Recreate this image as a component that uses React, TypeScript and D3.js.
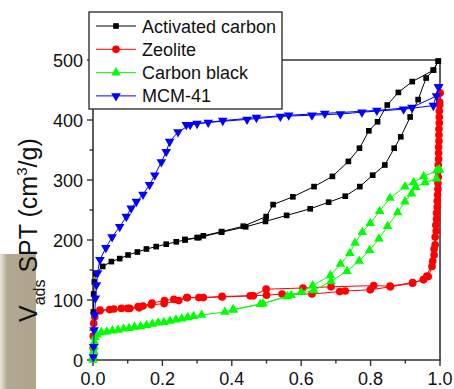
import React from 'react';
import * as d3 from 'd3';

const W = 454;
const H = 389;

const xTicks = [0, 0.2, 0.4, 0.6, 0.8, 1.0];
const xTickLabels = ['0.0', '0.2', '0.4', '0.6', '0.8', '1.0'];
const xMinorTicks = [0.1, 0.3, 0.5, 0.7, 0.9];
const yTicks = [0, 100, 200, 300, 400, 500];
const yMinorTicks = [50, 150, 250, 350, 450];

const seriesNames = ['Activated carbon', 'Zeolite', 'Carbon black', 'MCM-41'];
const seriesColors = ['#000000', '#ff0000', '#00ff00', '#0000ff'];
const seriesMarkers = ['square', 'circle', 'triangle', 'triangleDown'];

// [P/P0, V_ads]
const activatedCarbonAds: [number, number][] = [
  [0.0005, 40], [0.001, 80], [0.002, 110], [0.004, 130], [0.008, 144], [0.028, 156],
  [0.053, 164], [0.077, 169], [0.101, 175], [0.128, 180], [0.154, 185], [0.182, 189],
  [0.211, 193], [0.24, 197], [0.265, 200], [0.305, 204], [0.37, 213], [0.44, 222],
  [0.497, 231], [0.558, 241], [0.626, 252], [0.679, 263], [0.727, 273], [0.769, 289],
  [0.806, 308], [0.841, 325], [0.868, 353], [0.887, 372], [0.914, 405], [0.937, 434],
  [0.96, 470], [0.981, 483], [0.995, 498],
];
const activatedCarbonDes: [number, number][] = [
  [0.995, 498], [0.981, 483], [0.92, 464], [0.88, 446], [0.848, 425], [0.82, 397],
  [0.795, 382], [0.768, 353], [0.736, 331], [0.69, 306], [0.637, 289], [0.576, 272],
  [0.519, 259], [0.499, 239], [0.433, 223], [0.371, 214], [0.318, 207], [0.3, 204],
  [0.265, 201],
];

const zeoliteAds: [number, number][] = [
  [0.0005, 20], [0.001, 40], [0.002, 61], [0.005, 72], [0.02, 82], [0.048, 84],
  [0.082, 86], [0.106, 86], [0.133, 87], [0.168, 92], [0.205, 94], [0.247, 99],
  [0.272, 104], [0.305, 104], [0.372, 105], [0.453, 107], [0.5, 108], [0.545, 110],
  [0.631, 110], [0.711, 114], [0.727, 115], [0.799, 117], [0.857, 122], [0.921, 128],
  [0.953, 134], [0.966, 139], [0.977, 156], [0.983, 175], [0.986, 192], [0.989, 215],
  [0.99, 235], [0.992, 255], [0.993, 275], [0.994, 295], [0.995, 315], [0.996, 335],
  [0.996, 355], [0.997, 375], [0.998, 395], [0.998, 415], [0.999, 430], [1.0, 445],
];
const zeoliteDes: [number, number][] = [
  [1.0, 445], [0.999, 425], [0.998, 405], [0.997, 385], [0.997, 365], [0.996, 345],
  [0.995, 325], [0.995, 305], [0.994, 285], [0.992, 265], [0.99, 245], [0.988, 225],
  [0.986, 205], [0.983, 185], [0.979, 165], [0.962, 140], [0.952, 134], [0.921, 129],
  [0.856, 123], [0.809, 124], [0.686, 122], [0.605, 120], [0.499, 118], [0.462, 107],
  [0.372, 106], [0.318, 104], [0.27, 104], [0.233, 101], [0.206, 99], [0.17, 95],
  [0.144, 90], [0.13, 89], [0.1, 86], [0.06, 85], [0.02, 83],
];

const carbonBlackAds: [number, number][] = [
  [0.0003, 0], [0.001, 6], [0.002, 15], [0.003, 22], [0.004, 30], [0.006, 38],
  [0.012, 42], [0.024, 46], [0.04, 47], [0.056, 49], [0.072, 50], [0.088, 52],
  [0.104, 53], [0.12, 55], [0.137, 56], [0.154, 58], [0.171, 60], [0.188, 62],
  [0.205, 63], [0.222, 65], [0.239, 67], [0.256, 69], [0.273, 71], [0.29, 73],
  [0.313, 75], [0.38, 80], [0.404, 84], [0.482, 93], [0.571, 108], [0.636, 116],
  [0.686, 131], [0.732, 148], [0.767, 165], [0.797, 183], [0.824, 202], [0.849, 223],
  [0.878, 246], [0.899, 264], [0.918, 277], [0.93, 288], [0.957, 296], [0.99, 302],
  [0.998, 317],
];
const carbonBlackDes: [number, number][] = [
  [0.998, 317], [0.991, 316], [0.953, 306], [0.924, 296], [0.899, 289], [0.856, 270],
  [0.826, 248], [0.799, 228], [0.776, 213], [0.755, 195], [0.74, 178], [0.713, 160],
  [0.684, 141], [0.633, 124], [0.6, 113], [0.56, 106], [0.49, 94], [0.404, 84],
];

const mcm41Ads: [number, number][] = [
  [0.001, 5], [0.002, 22], [0.003, 50], [0.005, 75], [0.007, 103], [0.01, 125],
  [0.013, 145], [0.02, 167], [0.037, 187], [0.055, 205], [0.077, 222], [0.096, 239],
  [0.11, 253], [0.125, 264], [0.144, 276], [0.163, 292], [0.178, 308], [0.197, 330],
  [0.211, 347], [0.221, 364], [0.245, 380], [0.28, 392], [0.332, 396], [0.444, 401],
  [0.54, 406], [0.631, 408], [0.713, 410], [0.775, 413], [0.895, 418], [0.981, 424],
  [0.996, 455],
];
const mcm41Des: [number, number][] = [
  [0.996, 455], [0.99, 440], [0.919, 421], [0.818, 416], [0.668, 411], [0.564, 408],
  [0.471, 404], [0.374, 399], [0.3, 394], [0.269, 392],
];

const seriesData = [
  activatedCarbonAds.concat(activatedCarbonDes),
  zeoliteAds.concat(zeoliteDes),
  carbonBlackAds.concat(carbonBlackDes),
  mcm41Ads.concat(mcm41Des),
];

function markerPath(kind: string): string {
  if (kind === 'square') return d3.symbol().type(d3.symbolSquare).size(32)() as string;
  if (kind === 'circle') return d3.symbol().type(d3.symbolCircle).size(46)() as string;
  return d3.symbol().type(d3.symbolTriangle).size(40)() as string;
}

function Marker({ kind, cx, cy, color }: { kind: string; cx: number; cy: number; color: string }) {
  const rot = kind === 'triangleDown' ? ' rotate(180)' : '';
  return <path d={markerPath(kind)} transform={`translate(${cx},${cy})${rot}`} fill={color} />;
}

export default function App() {
  const x = d3.scaleLinear().domain([0, 1]).range([93, 440]);
  const y = d3.scaleLinear().domain([0, 500]).range([360, 60]);
  const line = d3
    .line<[number, number]>()
    .x((d) => x(d[0]))
    .y((d) => y(d[1]));

  const font = '"Liberation Sans", Arial, sans-serif';
  const axisColor = '#333';
  const legendRows = seriesNames.map((n, i) => ({ name: n, i, cy: 26 + i * 23.3 }));

  return (
    <svg
      width={W}
      height={H}
      viewBox={`0 0 ${W} ${H}`}
      style={{ position: 'absolute', left: 0, top: 0, background: '#fff' }}
      fontFamily={font}
    >
      <defs>
        <linearGradient id="strip" x1="0" x2="1" y1="0" y2="0">
          <stop offset="0" stopColor="#e9e5dc" />
          <stop offset="0.1" stopColor="#cfc6b4" />
          <stop offset="0.2" stopColor="#b2a790" />
          <stop offset="1" stopColor="#afa48c" />
        </linearGradient>
      </defs>
      <rect x={0} y={254} width={36} height={H - 254} fill="url(#strip)" />

      {/* frame */}
      <line x1={93} y1={60} x2={440} y2={60} stroke={axisColor} strokeWidth={1.6} />
      <line x1={440} y1={60} x2={440} y2={360} stroke={axisColor} strokeWidth={1.6} />
      <line x1={93} y1={60} x2={93} y2={360.8} stroke={axisColor} strokeWidth={1.6} />
      <line x1={92.2} y1={360} x2={440.8} y2={360} stroke={axisColor} strokeWidth={1.6} />

      {/* x ticks */}
      {xTicks.map((t) => (
        <line key={'xt' + t} x1={x(t)} x2={x(t)} y1={360} y2={366} stroke={axisColor} strokeWidth={1.4} />
      ))}
      {xMinorTicks.map((t) => (
        <line key={'xm' + t} x1={x(t)} x2={x(t)} y1={360} y2={363.5} stroke={axisColor} strokeWidth={1.4} />
      ))}
      {xTicks.map((t, i) => (
        <text key={'xl' + t} x={x(t)} y={385} fontSize={18} textAnchor="middle" fill="#111">
          {xTickLabels[i]}
        </text>
      ))}

      {/* y ticks */}
      {yTicks.map((t) => (
        <line key={'yt' + t} x1={87} x2={93} y1={y(t)} y2={y(t)} stroke={axisColor} strokeWidth={1.4} />
      ))}
      {yMinorTicks.map((t) => (
        <line key={'ym' + t} x1={89.5} x2={93} y1={y(t)} y2={y(t)} stroke={axisColor} strokeWidth={1.4} />
      ))}
      {yTicks.map((t) => (
        <text key={'yl' + t} x={83} y={y(t) + 6.5} fontSize={18} textAnchor="end" fill="#111">
          {t}
        </text>
      ))}

      {/* y label */}
      <text transform="translate(37,322) rotate(-90)" fontSize={25} fill="#111">
        <tspan>V</tspan>
        <tspan dy={8} fontSize={16}>ads</tspan>
        <tspan dy={-8}> SPT (cm</tspan>
        <tspan dy={-10} fontSize={15}>3</tspan>
        <tspan dy={10}>/g)</tspan>
      </text>

      {/* series */}
      {seriesData.map((pts, i) => (
        <g key={'s' + i}>
          <path d={line(pts) as string} fill="none" stroke={seriesColors[i]} strokeWidth={1} />
          {pts.map((p, j) => (
            <Marker key={j} kind={seriesMarkers[i]} cx={x(p[0])} cy={y(p[1])} color={seriesColors[i]} />
          ))}
        </g>
      ))}

      {/* legend */}
      <rect x={89} y={12} width={193} height={97} fill="#fff" stroke={axisColor} strokeWidth={1.4} />
      {legendRows.map((r) => (
        <g key={'lg' + r.i}>
          <line x1={96} x2={136} y1={r.cy} y2={r.cy} stroke={seriesColors[r.i]} strokeWidth={1} />
          <Marker kind={seriesMarkers[r.i]} cx={116} cy={r.cy} color={seriesColors[r.i]} />
          <text x={142} y={r.cy + 6.5} fontSize={18} fill="#111">
            {r.name}
          </text>
        </g>
      ))}
    </svg>
  );
}
